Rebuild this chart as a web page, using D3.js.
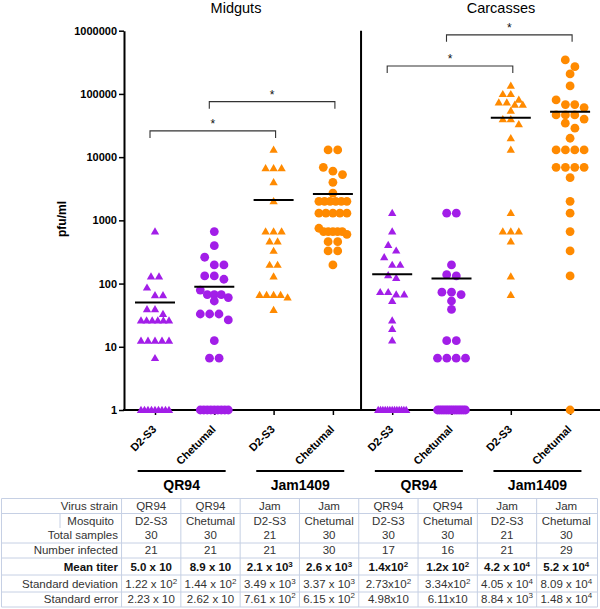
<!DOCTYPE html>
<html><head><meta charset="utf-8">
<script src="https://cdn.jsdelivr.net/npm/d3@7"></script>
<style>body{margin:0;background:#fff}svg{display:block}</style>
</head><body>
<svg id="chart" width="600" height="609"></svg>
<script>
// ---------------- DATA ----------------
const tissues = ["Midguts", "Carcasses"];
const groupKeys = ["M-QR94-D2S3","M-QR94-Chet","M-Jam-D2S3","M-Jam-Chet","C-QR94-D2S3","C-QR94-Chet","C-Jam-D2S3","C-Jam-Chet"];
const mosquitoLabels = ["D2-S3","Chetumal","D2-S3","Chetumal","D2-S3","Chetumal","D2-S3","Chetumal"];
const strainGroups = [
  {label:"QR94", from:0, to:1}, {label:"Jam1409", from:2, to:3},
  {label:"QR94", from:4, to:5}, {label:"Jam1409", from:6, to:7}
];
const virusColors = ["#a21ee8","#a21ee8","#ff8a00","#ff8a00","#a21ee8","#a21ee8","#ff8a00","#ff8a00"];
const markerShapes = ["triangle","circle","triangle","circle","triangle","circle","triangle","circle"];

const midgutQR94D2S3 = [665,129,129,86,65,65,39,39,33,26,26,26,26,26,26,12.4,12.4,12.4,12.4,12.4,6.6,1,1,1,1,1,1,1,1,1];
const midgutQR94Chet = [665,398,261,197,197,132,132,117,79,67,67,67,60,53,33,33,33,26.6,12.5,6.6,6.6,1,1,1,1,1,1,1,1,1];
const midgutJamD2S3 = [13000,6670,6670,6670,4000,2000,665,665,665,460,460,328,197,197,129,66,66,66,66,60,38];
const midgutJamChet = [13000,13000,6900,6000,5300,4000,2690,2000,2000,2000,2000,2000,2000,1300,1300,1300,1300,1300,750,665,665,665,665,665,600,460,460,328,328,197];
const carcQR94D2S3 = [1300,665,407,331,261,197,197,135,122,73,73,67,67,53,26,19,12.5,1,1,1,1,1,1,1,1,1,1,1,1,1];
const carcQR94Chet = [1300,1300,197,138,132,73,73,67,53,39,12.5,12.5,6.6,6.6,6.6,6.6,1,1,1,1,1,1,1,1,1,1,1,1,1,1];
const carcJamD2S3 = [134000,99000,99000,80400,72800,72800,67000,67000,53900,39700,39700,33000,19900,13000,1300,665,665,665,460,129,66];
const carcJamChet = [345000,270000,207000,134000,80400,67800,67800,60700,46500,46500,46500,40000,34400,28700,19900,13000,13000,13000,13000,6900,6900,6900,6900,4740,2000,1300,665,328,132,1];
const seriesValues = [midgutQR94D2S3, midgutQR94Chet, midgutJamD2S3, midgutJamChet, carcQR94D2S3, carcQR94Chet, carcJamD2S3, carcJamChet];
const meanTiters = [50, 89, 2100, 2600, 140, 120, 42000, 52000];

const yTicks = [1,10,100,1000,10000,100000,1000000];
const significance = [
  {a:0, b:2, level:26000}, {a:1, b:3, level:75500},
  {a:4, b:6, level:277000}, {a:5, b:7, level:860000}
];

const tableRowLabels = ["Virus strain","Mosquito","Total samples","Number infected","Mean titer","Standard deviation","Standard error"];
const virusStrainRow = ["QR94","QR94","Jam","Jam","QR94","QR94","Jam","Jam"];
const mosquitoRow = ["D2-S3","Chetumal","D2-S3","Chetumal","D2-S3","Chetumal","D2-S3","Chetumal"];
const totalSamplesRow = ["30","30","21","30","30","30","21","30"];
const numberInfectedRow = ["21","21","21","30","17","16","21","29"];
const meanTiterRow = ["5.0 x 10","8.9 x 10","2.1 x 10^3","2.6 x 10^3","1.4x10^2","1.2x 10^2","4.2 x 10^4","5.2 x 10^4"];
const stdDevRow = ["1.22 x 10^2","1.44 x 10^2","3.49 x 10^3","3.37 x 10^3","2.73x10^2","3.34x10^2","4.05 x 10^4","8.09 x 10^4"];
const stdErrRow = ["2.23 x 10","2.62 x 10","7.61 x 10^2","6.15 x 10^2","4.98x10","6.11x10","8.84 x 10^3","1.48 x 10^4"];

// ---------------- CHART ----------------
const svg = d3.select("#chart");
const font = "'Liberation Sans', Arial, Helvetica, sans-serif";
svg.attr("font-family", font);

const axisX = 124, baseY = 410, topY = 30.7;
const x = d3.scalePoint().domain(groupKeys).range([155, 570.1]);
const y = d3.scaleLog().domain([1, 1e6]).range([baseY, topY]);
const step = x.step();

// titles
svg.append("text").attr("x", 236).attr("y", 12.5).attr("text-anchor","middle")
  .attr("font-size", 14.5).text(tissues[0]);
svg.append("text").attr("x", 501).attr("y", 12.5).attr("text-anchor","middle")
  .attr("font-size", 14.5).text(tissues[1]);

// y axis
const yAxis = d3.axisLeft(y).tickValues(yTicks).tickFormat(d3.format("d"))
  .tickSize(5).tickSizeOuter(0).tickPadding(2);
const gy = svg.append("g").attr("transform", `translate(${axisX},0)`).call(yAxis);
gy.select(".domain").attr("stroke", "#000").attr("stroke-width", 2);
gy.selectAll(".tick line").attr("stroke", "#000").attr("stroke-width", 1.5);
gy.selectAll(".tick text").attr("font-size", 11).attr("font-weight", "bold")
  .attr("font-family", font).attr("fill", "#000");

svg.append("text").attr("transform", "translate(66,219) rotate(-90)")
  .attr("text-anchor","middle").attr("font-size", 12).attr("font-weight","bold").text("pfu/ml");

// x axis line
svg.append("line").attr("x1", axisX - 1).attr("x2", 600).attr("y1", baseY).attr("y2", baseY)
  .attr("stroke", "#000").attr("stroke-width", 2);
const xAxis = d3.axisBottom(x).tickSize(5).tickFormat("");
const gx = svg.append("g").attr("transform", `translate(0,${baseY})`).call(xAxis);
gx.select(".domain").remove();
gx.selectAll(".tick line").attr("stroke", "#000").attr("stroke-width", 1.5);

// divider
const divX = (x(groupKeys[3]) + x(groupKeys[4])) / 2 - 1.5;
svg.append("line").attr("x1", divX).attr("x2", divX).attr("y1", topY).attr("y2", baseY)
  .attr("stroke", "#000").attr("stroke-width", 2);

// x labels
groupKeys.forEach((k, i) => {
  svg.append("text").attr("transform", `translate(${x(k) + 2},430) rotate(-45)`)
    .attr("text-anchor","end").attr("font-size", 11).attr("font-weight","bold")
    .text(mosquitoLabels[i]);
});

// strain group bars & labels
strainGroups.forEach(g => {
  const cx = (x(groupKeys[g.from]) + x(groupKeys[g.to])) / 2 - 3;
  svg.append("line").attr("x1", cx - 44).attr("x2", cx + 44).attr("y1", 471).attr("y2", 471)
    .attr("stroke", "#000").attr("stroke-width", 2);
  svg.append("text").attr("x", cx).attr("y", 490).attr("text-anchor","middle")
    .attr("font-size", 14).attr("font-weight","bold").text(g.label);
});

// point layout (row-based scatter)
function layoutGroup(values, isTri) {
  const spacing = isTri ? 8 : 9.6;
  const maxSpan = 28;
  const pts = values.map(v => ({v, py: y(v)})).sort((a, b) => a.py - b.py);
  const rows = [];
  let cur = null;
  for (const p of pts) {
    if (!cur || p.py - cur.y0 >= 8) { cur = {y0: p.py, pts: []}; rows.push(cur); }
    cur.pts.push(p);
  }
  rows.forEach(r => {
    const n = r.pts.length;
    const s = n > 1 ? Math.min(spacing, maxSpan / (n - 1)) : 0;
    r.pts.forEach((p, i) => p.dx = (i - (n - 1) / 2) * s);
  });
  return pts;
}

const triSym = d3.symbol().type(d3.symbolTriangle).size(30);
const cirSym = d3.symbol().type(d3.symbolCircle).size(Math.PI * 4.4 * 4.4);

groupKeys.forEach((k, i) => {
  const isTri = markerShapes[i] === "triangle";
  const pts = layoutGroup(seriesValues[i], isTri);
  svg.append("g").selectAll("path").data(pts).join("path")
    .attr("d", isTri ? triSym() : cirSym())
    .attr("transform", d => `translate(${x(k) + d.dx},${d.py + (isTri ? 0.5 : 0)})`)
    .attr("fill", virusColors[i]);
  // mean line
  svg.append("line").attr("x1", x(k) - 20).attr("x2", x(k) + 20)
    .attr("y1", y(meanTiters[i])).attr("y2", y(meanTiters[i]))
    .attr("stroke", "#000").attr("stroke-width", 2);
});

// significance brackets
significance.forEach(s => {
  const x1 = x(groupKeys[s.a]) - 5, x2 = x(groupKeys[s.b]) + 2, yy = y(s.level);
  svg.append("path").attr("d", `M${x1},${yy + 7}V${yy}H${x2}V${yy + 7}`)
    .attr("fill","none").attr("stroke","#333").attr("stroke-width", 1.1);
  svg.append("text").attr("x", (x1 + x2) / 2).attr("y", yy - 3).attr("text-anchor","middle")
    .attr("font-size", 12).attr("fill", "#111").text("*");
});

// ---------------- TABLE ----------------
const gridColor = "#c6d0e4";
const textColor = "#333";
const tableLeft = 1.5, tableRight = 597.5;
const colCenters = groupKeys.map(k => x(k) - 3.8);
const colBounds = [colCenters[0] - step / 2, ...colCenters.map(c => c + step / 2)];
const hLines = [498.5, 513.5, 543, 558, 575, 592, 607];
const rowBaselines = [509.5, 524.5, 539, 554, 571, 588, 602.5];
const tableData = [virusStrainRow, mosquitoRow, totalSamplesRow, numberInfectedRow, meanTiterRow, stdDevRow, stdErrRow];

const tg = svg.append("g");
hLines.forEach(h => tg.append("line").attr("x1", tableLeft).attr("x2", tableRight)
  .attr("y1", h).attr("y2", h).attr("stroke", gridColor).attr("stroke-width", 1));
[tableLeft, ...colBounds.slice(0, -1), tableRight].forEach(v => tg.append("line")
  .attr("x1", v).attr("x2", v).attr("y1", hLines[0]).attr("y2", hLines[hLines.length - 1])
  .attr("stroke", gridColor).attr("stroke-width", 1));
tg.append("line").attr("x1", 60).attr("x2", 60).attr("y1", 513.5).attr("y2", 528)
  .attr("stroke", gridColor).attr("stroke-width", 1);

function writeCell(xp, yp, str, anchor, bold) {
  const t = tg.append("text").attr("x", xp).attr("y", yp).attr("text-anchor", anchor)
    .attr("font-size", 11.5).attr("fill", bold ? "#111" : textColor)
    .attr("font-weight", bold ? "bold" : "normal");
  const parts = str.split("^");
  t.append("tspan").text(parts[0]);
  if (parts[1]) t.append("tspan").attr("dy", -4.5).attr("font-size", 8).text(parts[1]);
}

tableRowLabels.forEach((lab, r) => {
  const bold = r === 4;
  writeCell(r === 1 ? 114 : 118, rowBaselines[r], lab, "end", bold);
  tableData[r].forEach((v, c) => writeCell(colCenters[c], rowBaselines[r], v, "middle", bold));
});
</script>
</body></html>
